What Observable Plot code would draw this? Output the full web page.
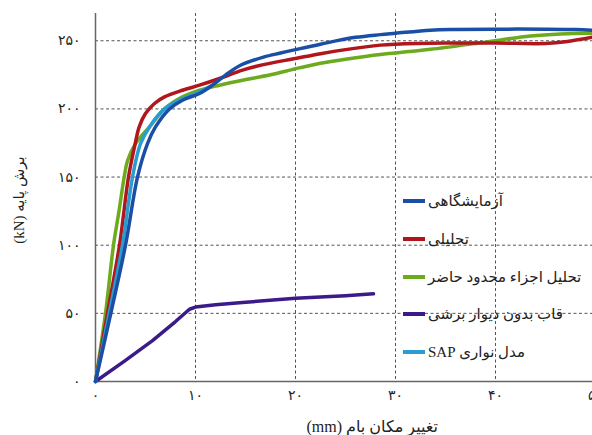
<!DOCTYPE html>
<html>
<head>
<meta charset="utf-8">
<script src="https://cdn.jsdelivr.net/npm/d3@7"></script>
<script src="https://cdn.jsdelivr.net/npm/@observablehq/plot@0.6"></script>
<style>
html, body { margin: 0; padding: 0; overflow: hidden; background: #fff; }
#wrap { position: relative; width: 592px; height: 435px; overflow: hidden; font-family: "Liberation Serif", "DejaVu Sans", serif; }
#chart { position: absolute; left: 0; top: 0; width: 600px; }
#chart svg { max-width: none !important; }
.title { position: absolute; color: #222; white-space: nowrap; font-size: 15px; }
.legend-row { position: absolute; display: flex; align-items: center; white-space: nowrap; direction: ltr; }
.legend-row .sw { display: inline-block; width: 22px; height: 3.5px; margin-right: 3px; }
.legend-row .lb { font-size: 15px; color: #222; }
</style>
</head>
<body>
<div id="wrap">
  <div id="chart"></div>
</div>
<script>
// ---- data ----
const seriesNames = ["آزمایشگاهی", "تحلیلی", "تحلیل اجزاء محدود حاضر", "قاب بدون دیوار برشی", "مدل نواری SAP"];
const seriesColors = ["#1A4FA5", "#B0161C", "#6CAA1E", "#3B1A8A", "#2A9CCF"];

const expX = [0, 1.53, 3.0, 4.2, 5.2, 6.0, 7.4, 8.7, 10.4, 11.7, 13.0, 14.5, 16.8, 18.5, 20, 22.5, 26, 28.5, 30, 33.5, 36, 40, 45, 48, 50];
const expY = [0, 50, 100, 150, 174.5, 186.8, 200, 206.4, 211.3, 217.4, 224.8, 232, 238, 241, 243.5, 247.5, 252.5, 254.5, 255.5, 257.8, 258.3, 258.5, 258.5, 258.2, 257.5];

const anaX = [0, 1.2, 2.4, 3.3, 3.97, 4.37, 5.0, 5.9, 6.9, 8.7, 10.4, 12.4, 14.7, 16.8, 20, 22.5, 25, 28.5, 30, 35, 40, 45, 47.2, 50];
const anaY = [0, 50, 100, 150, 174.5, 186.8, 196.6, 204, 208.8, 213.7, 217.4, 222.3, 228.5, 232.5, 237, 240.5, 243.5, 246.8, 247.5, 248.3, 248.3, 248, 249.5, 253];

const feX = [0, 1.0, 1.8, 2.35, 2.87, 3.2, 4.0, 5.4, 6.9, 8.7, 10.4, 12.4, 14.7, 17.5, 20, 22.5, 25, 28.5, 30, 33.5, 38.5, 43.5, 46.5, 50];
const feY = [0, 50, 100, 125, 150, 162, 174.5, 186.8, 200, 208.8, 213.7, 217.4, 221, 225, 229.5, 233.5, 236.5, 240, 241, 243.7, 248.5, 253.5, 255, 255.5];

const frameX = [0, 3, 5.7, 8, 9.4, 10, 12, 14.7, 20, 25, 27.8];
const frameY = [0, 15.5, 30, 44, 53, 54.6, 56.3, 58, 61, 63, 64.3];

const sapX = [0, 1.37, 2.7, 3.7, 4.5, 5.4, 6.9, 8.4, 10, 11.7];
const sapY = [0, 50, 100, 150, 174.5, 186.8, 200, 206.4, 211.3, 217.4];

const xTicks = [0, 10, 20, 30, 40, 50];
const xTickLabels = ["۰", "۱۰", "۲۰", "۳۰", "۴۰", "۵۰"];
const yTicks = [0, 50, 100, 150, 200, 250];
const yTickLabels = ["۰", "۵۰", "۱۰۰", "۱۵۰", "۲۰۰", "۲۵۰"];
const xGrid = [10, 20, 30, 40, 50];
const yGrid = [50, 100, 150, 200, 250];

const xTitle = "تغییر مکان بام (mm)";
const yTitle = "برش پایه (kN)";

// ---- build table ----
const xs = [expX, anaX, feX, frameX, sapX];
const ys = [expY, anaY, feY, frameY, sapY];
const rows = [];
xs.forEach((arr, i) => arr.forEach((x, j) => rows.push({series: seriesNames[i], x, y: ys[i][j]})));
const drawOrder = [3, 2, 1, 4, 0];
const curves = ["catmull-rom", "catmull-rom", "catmull-rom", "linear", "catmull-rom"];

const xFmt = d => xTickLabels[xTicks.indexOf(d)];
const yFmt = d => yTickLabels[yTicks.indexOf(d)];

const chart = Plot.plot({
  width: 600,
  height: 435,
  marginLeft: 95,
  marginRight: 5,
  marginTop: 13,
  marginBottom: 54,
  style: {fontFamily: "'Liberation Serif', 'DejaVu Sans', serif", fontSize: "14px", color: "#222", background: "transparent", maxWidth: "none"},
  x: {domain: [0, 50]},
  y: {domain: [0, 270]},
  marks: [
    Plot.gridX(xGrid, {stroke: "#555", strokeOpacity: 1, strokeWidth: 1, strokeDasharray: "3,2.5"}),
    Plot.gridY(yGrid, {stroke: "#555", strokeOpacity: 1, strokeWidth: 1, strokeDasharray: "3,2.5"}),
    Plot.ruleX([0], {stroke: "#666", strokeWidth: 1.5}),
    Plot.ruleY([0], {stroke: "#666", strokeWidth: 1.5}),
    Plot.axisX({ticks: xTicks, tickFormat: xFmt, tickSize: 0, tickPadding: 9, label: null, fontSize: 14}),
    Plot.axisY({ticks: yTicks, tickFormat: yFmt, tickSize: 0, tickPadding: 15, label: null, fontSize: 14}),
    ...drawOrder.map(i => Plot.line(rows.filter(r => r.series === seriesNames[i]), {
      x: "x", y: "y", stroke: seriesColors[i], strokeWidth: 3.5, curve: curves[i], strokeLinejoin: "round"
    }))
  ]
});
chart.style.maxWidth = "none";
document.getElementById("chart").appendChild(chart);

const wrap = document.getElementById("wrap");
// axis titles
const xt = document.createElement("div");
xt.className = "title"; xt.dir = "rtl"; xt.textContent = xTitle;
xt.style.fontSize = "16px";
wrap.appendChild(xt);
xt.style.left = (372 - xt.offsetWidth / 2) + "px";
xt.style.top = (426 - xt.offsetHeight / 2) + "px";

const yt = document.createElement("div");
yt.className = "title"; yt.dir = "rtl"; yt.textContent = yTitle;
yt.style.fontSize = "15px";
wrap.appendChild(yt);
yt.style.left = (19 - yt.offsetWidth / 2) + "px";
yt.style.top = (200 - yt.offsetHeight / 2) + "px";
yt.style.transform = "rotate(-90deg)";

// legend
const legendY = [201, 239, 277, 314, 352];
seriesNames.forEach((name, i) => {
  const row = document.createElement("div");
  row.className = "legend-row";
  const sw = document.createElement("span");
  sw.className = "sw"; sw.style.background = seriesColors[i];
  const lb = document.createElement("span");
  lb.className = "lb"; lb.dir = "rtl"; lb.textContent = name;
  row.appendChild(sw); row.appendChild(lb);
  wrap.appendChild(row);
  row.style.left = "403px";
  row.style.top = (legendY[i] - row.offsetHeight / 2) + "px";
});
</script>
</body>
</html>
